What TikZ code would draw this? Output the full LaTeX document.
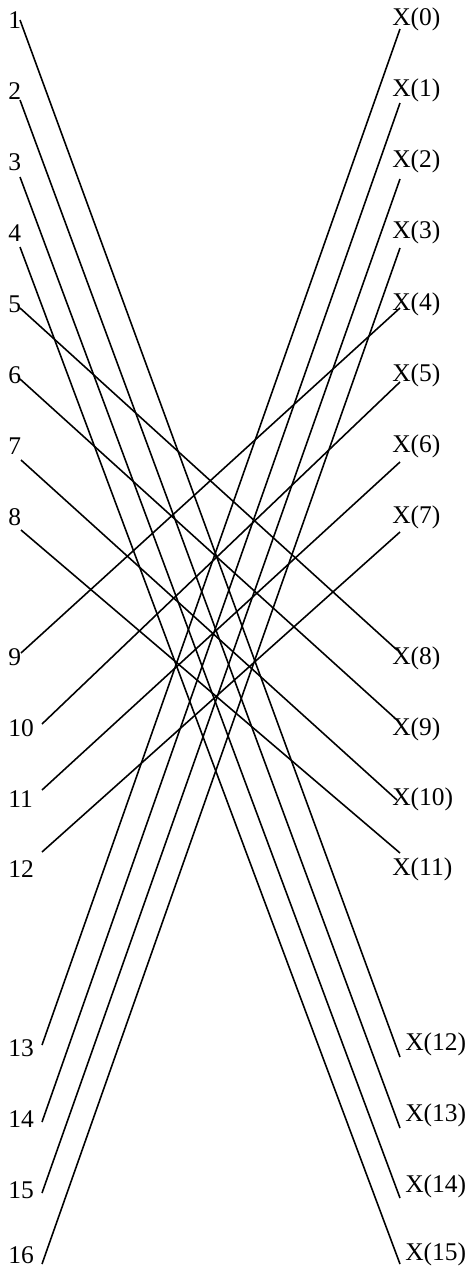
\documentclass[tikz,border=0pt]{standalone}
\usepackage{fontspec}
\setmainfont{Liberation Serif}
\usetikzlibrary{positioning}

\begin{document}
\begin{tikzpicture}[x=0.02cm, y=-0.02cm,
    num/.style={font=\fontsize{14.5}{17}\selectfont, inner sep=0pt, anchor=west},
    wire/.style={line width=0.9pt}
]
  \useasboundingbox (0,0) rectangle (470,1268);
  % inputs on the left
  \foreach \i/\y/\ex/\ey in {1/20/20/20, 2/91/20/100, 3/162/20/177, 4/233/20/247,
      5/304/20/308, 6/375/20/379, 7/446/21/460, 8/517/21/530,
      9/657/21/653, 10/728/42/724, 11/799/42/790, 12/869/42/852,
      13/1048/42/1045, 14/1119/42/1122, 15/1190/42/1193, 16/1255/42/1264} {
    \node[num] (l\i) at (8,\y) {\i};
    \coordinate (a\i) at (\ex,\ey);
  }
  % outputs on the right
  \foreach \k/\x/\y/\ex/\ey in {0/392/19/400/29, 1/392/90/400/103, 2/392/161/400/179,
      3/392/232/400/248, 4/392/304/400/308, 5/392/375/400/382, 6/392/446/400/462,
      7/392/517/400/532, 8/392/658/397/650, 9/392/729/397/720, 10/392/799/397/800,
      11/392/869/400/853, 12/405/1044/400/1057, 13/405/1115/400/1128,
      14/405/1186/400/1198, 15/405/1254/400/1264} {
    \node[num] (r\k) at (\x,\y) {X(\k)};
    \coordinate (b\k) at (\ex,\ey);
  }
  % reordering
  \foreach \i/\k in {1/12, 2/13, 3/14, 4/15, 5/8, 6/9, 7/10, 8/11,
      9/4, 10/5, 11/6, 12/7, 13/0, 14/1, 15/2, 16/3}
    \draw[wire] (a\i) -- (b\k);
\end{tikzpicture}
\end{document}
